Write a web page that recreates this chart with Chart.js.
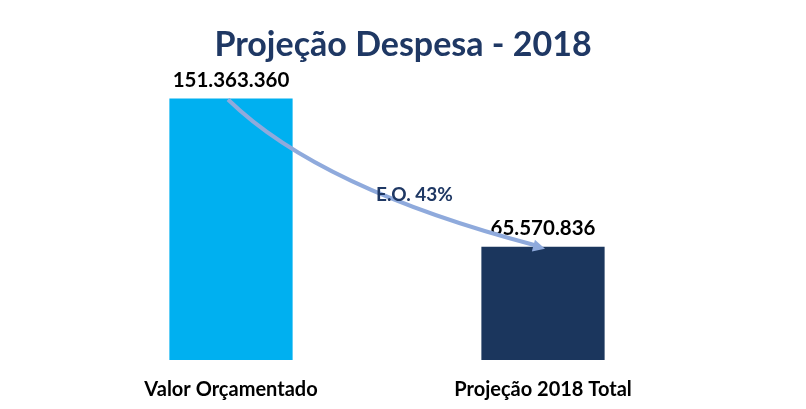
<!DOCTYPE html>
<html>
<head>
<meta charset="utf-8">
<script src="https://cdn.jsdelivr.net/npm/chart.js@4/dist/chart.umd.min.js"></script>
<style>
  body { margin: 0; background: #fff; }
  #grafico { display: block; }
</style>
</head>
<body>
<canvas id="grafico" width="806" height="409"></canvas>
<script>
const categorias = ["Valor Orçamentado", "Projeção 2018 Total"];
const valores = [151363360, 65570836];
const cores = ["#00B0F0", "#1B365D"];
const titulo = "Projeção Despesa - 2018";
const rotuloSeta = "E.O. 43%";

const fonte = "Lato";

function formatar(n) {
    return String(n).replace(/\B(?=(\d{3})+(?!\d))/g, ".");
}

// titulo, rotulos de valor em cima das barras + seta curva entre elas
const extras = {
    id: "extras",
    afterDatasetsDraw(chart) {
        const ctx = chart.ctx;
        const barras = chart.getDatasetMeta(0).data;

        ctx.save();
        ctx.textAlign = "center";

        ctx.font = "bold 34px " + fonte;
        ctx.fillStyle = "#1F3864";
        ctx.textBaseline = "middle";
        ctx.fillText(titulo, chart.width / 2, 45);

        ctx.font = "bold 20.5px " + fonte;
        ctx.fillStyle = "#000";
        ctx.textBaseline = "bottom";
        barras.forEach((b, i) => {
            ctx.fillText(formatar(valores[i]), b.x, b.y - 8);
        });

        // seta
        const x0 = barras[0].x - 3, y0 = barras[0].y + 1;
        const x2 = barras[1].x + 2, y2 = barras[1].y + 2;
        const cx = x0 + 0.29 * (x2 - x0), cy = y0 + 0.6 * (y2 - y0);
        ctx.strokeStyle = "#8FAADC";
        ctx.lineWidth = 4;
        ctx.beginPath();
        ctx.moveTo(x0, y0);
        ctx.quadraticCurveTo(cx, cy, x2 - 8, y2 - 3);
        ctx.stroke();

        const ang = Math.atan2(y2 - cy, x2 - cx);
        ctx.fillStyle = "#8FAADC";
        ctx.beginPath();
        ctx.moveTo(x2, y2);
        ctx.lineTo(x2 - 12 * Math.cos(ang) + 6 * Math.sin(ang), y2 - 12 * Math.sin(ang) - 6 * Math.cos(ang));
        ctx.lineTo(x2 - 12 * Math.cos(ang) - 6 * Math.sin(ang), y2 - 12 * Math.sin(ang) + 6 * Math.cos(ang));
        ctx.closePath();
        ctx.fill();

        ctx.font = "bold 19px " + fonte;
        ctx.fillStyle = "#1F3864";
        ctx.textBaseline = "middle";
        ctx.fillText(rotuloSeta, (x0 + x2) / 2 + 28, (y0 + y2) / 2 + 21);
        ctx.restore();
    }
};

new Chart(document.getElementById("grafico").getContext("2d"), {
    type: "bar",
    data: {
        labels: categorias,
        datasets: [{
            data: valores,
            backgroundColor: cores,
            borderWidth: 0,
            barPercentage: 1,
            categoryPercentage: 0.395
        }]
    },
    options: {
        responsive: false,
        animation: false,
        layout: { padding: { left: 75, right: 107, top: 56, bottom: 2 } },
        plugins: {
            legend: { display: false },
            tooltip: { enabled: false },
            title: { display: false }
        },
        scales: {
            x: {
                grid: { display: false, drawTicks: false },
                border: { display: false },
                ticks: {
                    color: "#000",
                    font: { family: fonte, size: 20, weight: "bold" },
                    padding: 18
                },
                afterFit(scale) {
                    scale.height = 47;
                }
            },
            y: {
                display: false,
                min: 0,
                max: 176000000
            }
        }
    },
    plugins: [extras]
});
</script>
</body>
</html>
